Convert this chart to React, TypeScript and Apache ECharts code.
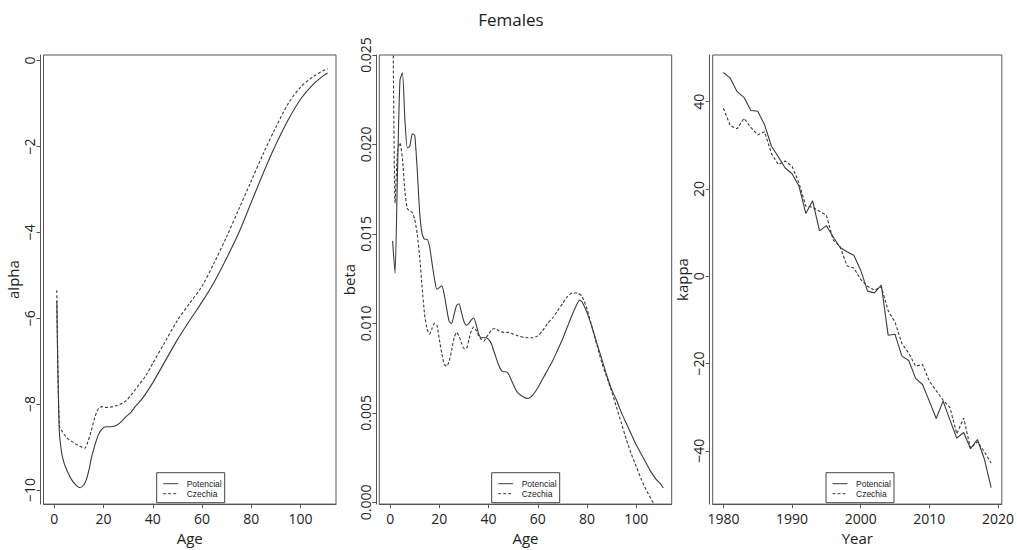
import React, { useEffect, useRef } from "react";
import * as echarts from "echarts";

const titleText = "Females";
const seriesNames = ["Potencial", "Czechia"];

const ageTicks = [0, 20, 40, 60, 80, 100];
const alphaTicks = [-10, -8, -6, -4, -2, 0];
const betaTicks = [0, 0.005, 0.01, 0.015, 0.02, 0.025];
const kappaTicks = [-40, -20, 0, 20, 40];
const yearTicks = [1980, 1990, 2000, 2010, 2020];

const alphaPotencial: [number, number][] = [
  [1, -5.6], [2, -8.6], [3, -9.15], [4, -9.38], [5, -9.53], [7, -9.76], [9, -9.9], [10.5, -9.95],
  [12, -9.88], [13, -9.76], [14, -9.55], [15.2, -9.22], [16.5, -8.95], [18, -8.7], [19.5, -8.57],
  [21, -8.53], [23, -8.53], [25, -8.5], [27, -8.42], [29, -8.3], [31, -8.2], [33, -8.05],
  [36, -7.85], [40, -7.5], [45, -7.0], [50, -6.5], [55, -6.05], [60, -5.62], [65, -5.15],
  [70, -4.6], [75, -4.0], [80, -3.3], [85, -2.6], [90, -1.95], [95, -1.38], [100, -0.9],
  [105, -0.56], [110, -0.32], [111, -0.29],
];
const alphaCzechia: [number, number][] = [
  [1, -5.35], [2, -8.5], [3, -8.62], [5, -8.78], [7, -8.87], [9, -8.94], [11, -9.0], [12.3, -9.03],
  [13.5, -8.9], [15, -8.62], [16.5, -8.3], [18, -8.1], [19.5, -8.06], [21, -8.08], [23, -8.07],
  [25, -8.04], [27, -8.0], [29, -7.93], [31, -7.8], [34, -7.58], [37, -7.35], [40, -7.05],
  [45, -6.55], [50, -6.05], [55, -5.65], [60, -5.25], [65, -4.7], [70, -4.1], [75, -3.45],
  [80, -2.8], [85, -2.15], [90, -1.55], [95, -1.0], [100, -0.62], [105, -0.38], [110, -0.21],
  [111, -0.19],
];

const betaPotencial: [number, number][] = [
  [1, 0.0146], [2, 0.0128], [3, 0.0185], [4, 0.0236], [5, 0.024], [6, 0.0214], [7, 0.0198],
  [8, 0.0199], [9, 0.0206], [10, 0.0205], [11, 0.0186], [12, 0.0162], [13, 0.015], [14, 0.0147],
  [15, 0.0147], [16, 0.0143], [17, 0.0134], [18, 0.0125], [19, 0.0119], [20, 0.012], [21, 0.0121],
  [22, 0.0116], [23, 0.0108], [24, 0.0101], [25, 0.01], [26, 0.0105], [27, 0.011], [28, 0.0111],
  [29, 0.0106], [30, 0.0101], [31, 0.0099], [32, 0.01], [33, 0.0102], [34, 0.0103], [35, 0.0099],
  [36, 0.0094], [37, 0.0092], [38, 0.0092], [39, 0.0092], [40, 0.0091], [41, 0.0089], [42, 0.0085],
  [43, 0.0081], [44, 0.0077], [45, 0.0074], [46, 0.0073], [47, 0.0073], [48, 0.0072], [49, 0.0069],
  [50, 0.0066], [51, 0.0063], [52, 0.0061], [54, 0.0059], [56, 0.0058], [58, 0.006], [60, 0.0064],
  [62, 0.0069], [64, 0.0074], [66, 0.0079], [68, 0.0085], [70, 0.0091], [72, 0.0098], [74, 0.0105],
  [76, 0.0111], [77, 0.0113], [78, 0.0112], [80, 0.0106], [82, 0.0098], [84, 0.0089], [86, 0.008],
  [88, 0.0071], [90, 0.0063], [92, 0.0057], [94, 0.005], [96, 0.0044], [98, 0.0038], [100, 0.0032],
  [102, 0.0027], [104, 0.0022], [106, 0.0017], [108, 0.0013], [110, 0.001], [111, 0.0008],
];
const betaCzechia: [number, number][] = [
  [1, 0.03], [2, 0.0167], [3, 0.0196], [4, 0.0201], [5, 0.0192], [6, 0.0174], [7, 0.0164],
  [8, 0.0163], [9, 0.0162], [10, 0.0158], [11, 0.015], [12, 0.0137], [13, 0.012], [14, 0.0105],
  [15, 0.0097], [16, 0.0094], [17, 0.0097], [18, 0.01], [19, 0.0099], [20, 0.0091], [21, 0.0083],
  [22, 0.0077], [23, 0.0076], [24, 0.0079], [25, 0.0085], [26, 0.0092], [27, 0.0095], [28, 0.0093],
  [29, 0.0089], [30, 0.0086], [31, 0.0086], [32, 0.0091], [33, 0.0096], [34, 0.0098], [35, 0.0096],
  [36, 0.0093], [37, 0.0091], [38, 0.009], [39, 0.0092], [40, 0.0094], [41, 0.0096], [42, 0.0097],
  [43, 0.0097], [44, 0.0096], [46, 0.0095], [48, 0.0095], [50, 0.0094], [52, 0.0093], [55, 0.0092],
  [58, 0.0092], [60, 0.0093], [62, 0.0096], [64, 0.01], [66, 0.0103], [68, 0.0107], [70, 0.0111],
  [72, 0.0115], [74, 0.0117], [76, 0.0117], [78, 0.0115], [80, 0.0108], [82, 0.0098], [84, 0.0088],
  [86, 0.0078], [88, 0.007], [90, 0.0062], [92, 0.0053], [94, 0.0044], [96, 0.0035], [98, 0.0027],
  [100, 0.002], [102, 0.0013], [104, 0.0007], [106, 0.0002], [108, -0.0003], [110, -0.0007],
];

const years = [
  1980, 1981, 1982, 1983, 1984, 1985, 1986, 1987, 1988, 1989,
  1990, 1991, 1992, 1993, 1994, 1995, 1996, 1997, 1998, 1999,
  2000, 2001, 2002, 2003, 2004, 2005, 2006, 2007, 2008, 2009,
  2010, 2011, 2012, 2013, 2014, 2015, 2016, 2017, 2018, 2019,
];
const kappaPotencial = [
  46.7, 45.4, 42.3, 41.0, 38.0, 37.8, 34.7, 29.8, 27.4, 24.8,
  23.5, 20.7, 14.4, 17.3, 10.4, 11.6, 9.0, 6.6, 5.6, 4.8,
  1.4, -3.4, -3.8, -2.0, -13.5, -13.3, -18.3, -19.3, -23.4, -24.8,
  -28.6, -32.6, -28.6, -32.9, -37.1, -35.8, -39.5, -37.4, -41.8, -48.4,
];
const kappaCzechia = [
  38.5, 34.5, 33.8, 36.2, 34.1, 32.4, 33.1, 28.1, 25.6, 26.4,
  25.2, 21.4, 16.1, 15.8, 14.9, 14.0, 8.3, 6.8, 2.4, 1.9,
  -0.7, -2.3, -3.2, -2.4, -7.9, -10.5, -15.4, -17.6, -20.6, -20.2,
  -24.0, -26.2, -28.4, -30.1, -36.1, -32.5, -39.4, -37.9, -40.2, -42.8,
];

const FONT = "Open Sans";
const AXIS_COLOR = "#555";
const TEXT_COLOR = "#222";
const LINE_COLOR = "#3a3a3a";

const minusFmt = (v: number) => String(v).replace("-", "\u2212");

function makeX(gridIndex: number, min: number, max: number, ticks: number[], name: string) {
  return {
    type: "value",
    gridIndex,
    min,
    max,
    name,
    nameLocation: "middle",
    nameGap: 24,
    nameTextStyle: { fontSize: 15, color: TEXT_COLOR, fontFamily: FONT },
    axisLine: { show: true, onZero: false, lineStyle: { color: AXIS_COLOR, width: 1 } },
    axisTick: { show: true, length: 4, customValues: ticks, lineStyle: { color: AXIS_COLOR, width: 1 } },
    axisLabel: { customValues: ticks, margin: 7, fontSize: 14, color: TEXT_COLOR, fontFamily: FONT, formatter: minusFmt },
    splitLine: { show: false },
  };
}

function makeY(gridIndex: number, min: number, max: number, ticks: number[], name: string, fmt: (v: number) => string) {
  return {
    type: "value",
    gridIndex,
    min,
    max,
    name,
    offset: 3,
    nameLocation: "middle",
    nameRotate: 90,
    nameGap: 20,
    nameTextStyle: { fontSize: 15, color: TEXT_COLOR, fontFamily: FONT },
    axisLine: { show: true, onZero: false, lineStyle: { color: AXIS_COLOR, width: 1 } },
    axisTick: { show: true, length: 4, customValues: ticks, lineStyle: { color: AXIS_COLOR, width: 1 } },
    axisLabel: { customValues: ticks, margin: 4, rotate: 90, fontSize: 14, color: TEXT_COLOR, fontFamily: FONT, formatter: fmt },
    splitLine: { show: false },
  };
}

function lineSeries(name: string, idx: number, data: any[], dashed: boolean, smooth: number | boolean) {
  return {
    type: "line",
    name,
    xAxisIndex: idx,
    yAxisIndex: idx,
    data,
    showSymbol: false,
    symbol: "none",
    smooth,
    clip: true,
    lineStyle: { color: LINE_COLOR, width: 1.1, type: dashed ? [3, 2] : "solid" },
  };
}

function legendBox(x: number, y: number) {
  const w = 68;
  const h = 30;
  return {
    type: "group",
    x,
    y,
    children: [
      { type: "rect", shape: { x: 0, y: 0, width: w, height: h }, style: { fill: "#fff", stroke: "#444", lineWidth: 1 } },
      { type: "line", shape: { x1: 6.5, y1: 11, x2: 21.5, y2: 11 }, style: { stroke: LINE_COLOR, lineWidth: 1 } },
      { type: "line", shape: { x1: 6.5, y1: 21, x2: 21.5, y2: 21 }, style: { stroke: LINE_COLOR, lineWidth: 1, lineDash: [3, 2] } },
      { type: "text", x: 30, y: 11, style: { text: seriesNames[0], fill: TEXT_COLOR, fontSize: 8.5, fontFamily: "Liberation Sans", verticalAlign: "middle", align: "left" } },
      { type: "text", x: 30, y: 21, style: { text: seriesNames[1], fill: TEXT_COLOR, fontSize: 8.5, fontFamily: "Liberation Sans", verticalAlign: "middle", align: "left" } },
    ],
  };
}

export default function App() {
  const ref = useRef<HTMLDivElement>(null);
  useEffect(() => {
    document.body.style.margin = "0";
    if (!ref.current) return;
    const chart = echarts.init(ref.current, null, { renderer: "svg" });
    const gridTop = 55;
    const gridH = 456.7;
    chart.setOption({
      animation: false,
      backgroundColor: "#fff",
      grid: [
        { left: 43.5, top: gridTop, width: 292.5, height: gridH, show: true, borderColor: AXIS_COLOR, borderWidth: 1, backgroundColor: "transparent" },
        { left: 379.3, top: gridTop, width: 292.4, height: gridH, show: true, borderColor: AXIS_COLOR, borderWidth: 1, backgroundColor: "transparent" },
        { left: 712.7, top: gridTop, width: 293.3, height: gridH, show: true, borderColor: AXIS_COLOR, borderWidth: 1, backgroundColor: "transparent" },
      ],
      xAxis: [
        makeX(0, -4.4, 114.4, ageTicks, "Age"),
        makeX(1, -4.4, 114.4, ageTicks, "Age"),
        makeX(2, 1978.44, 2020.56, yearTicks, "Year"),
      ],
      yAxis: [
        makeY(0, -10.33, 0.13, alphaTicks, "alpha", minusFmt),
        makeY(1, -0.0001, 0.025, betaTicks, "beta", (v: number) => v.toFixed(3)),
        makeY(2, -52.2, 50.7, kappaTicks, "kappa", minusFmt),
      ],
      series: [
        lineSeries(seriesNames[0], 0, alphaPotencial, false, 0.3),
        lineSeries(seriesNames[1], 0, alphaCzechia, true, 0.3),
        lineSeries(seriesNames[0], 1, betaPotencial, false, 0.2),
        lineSeries(seriesNames[1], 1, betaCzechia, true, 0.2),
        lineSeries(seriesNames[0], 2, years.map((y, i) => [y, kappaPotencial[i]]), false, false),
        lineSeries(seriesNames[1], 2, years.map((y, i) => [y, kappaCzechia[i]]), true, false),
      ],
      graphic: [
        { type: "text", x: 511, y: 19, style: { text: titleText, fill: TEXT_COLOR, fontSize: 17, fontFamily: FONT, align: "center", verticalAlign: "middle" } },
        legendBox(156.7, 472.7),
        legendBox(491.7, 472.7),
        legendBox(826, 472.7),
      ],
    });
    return () => chart.dispose();
  }, []);
  return <div ref={ref} style={{ position: "absolute", left: 0, top: 0, width: 1017, height: 550 }} />;
}
